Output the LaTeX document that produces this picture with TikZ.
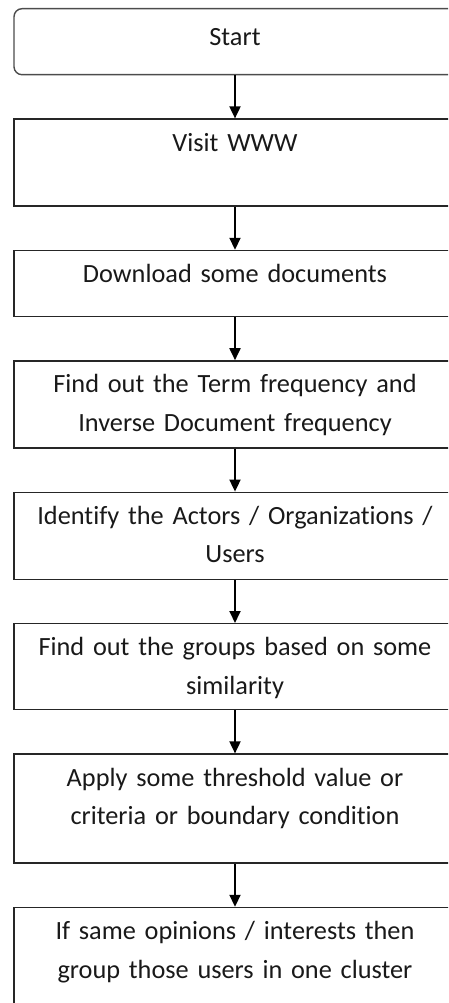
\documentclass[tikz,border=0pt]{standalone}
\usepackage{fontspec}
\setmainfont[Ligatures=NoCommon]{Carlito}
\usetikzlibrary{arrows.meta, positioning}
\tikzset{
    base/.style = {
        draw=black!85, line width=1.4pt, rectangle, inner sep=0pt,
        minimum width=442pt, text width=430pt, align=center,
        font=\fontsize{26.3pt}{38.5pt}\selectfont, text=black!90
    },
    % Boxes
    startend/.style = {base, draw=black!70, rounded corners=8pt, text height=36.5pt, text depth=29.5pt},
    stepbox/.style  = {base, text height=32pt},
    % Edges
    arrow/.style = {line width=1.8pt, -{Triangle[width=11pt,length=12pt]}}
}

\begin{document}
\begin{tikzpicture}[x=1pt, y=1pt, node distance=43pt]
    \path[use as bounding box, clip] (0,0) rectangle (448,-1003);

    \node (start) [startend, anchor=north] at (235,-8) {Start};
    \node (visit) [stepbox, text depth=55pt, below=of start] {Visit WWW};
    \node (download) [stepbox, text depth=34pt, below=of visit] {Download some documents};
    \node (tfidf) [stepbox, text depth=55pt, below=of download] {Find out the Term frequency and\\Inverse Document frequency};
    \node (actors) [stepbox, text depth=55pt, below=of tfidf] {Identify the Actors / Organizations /\\Users};
    \node (groups) [stepbox, text depth=54pt, below=of actors] {Find out the groups based on some\\similarity};
    \node (threshold) [stepbox, text depth=77pt, below=of groups] {Apply some threshold value or\\criteria or boundary condition};
    \node (cluster) [stepbox, text depth=103pt, below=of threshold] {If same opinions / interests then\\group those users in one cluster};

    \draw [arrow] (start) -- (visit);
    \draw [arrow] (visit) -- (download);
    \draw [arrow] (download) -- (tfidf);
    \draw [arrow] (tfidf) -- (actors);
    \draw [arrow] (actors) -- (groups);
    \draw [arrow] (groups) -- (threshold);
    \draw [arrow] (threshold) -- (cluster);
\end{tikzpicture}
\end{document}
